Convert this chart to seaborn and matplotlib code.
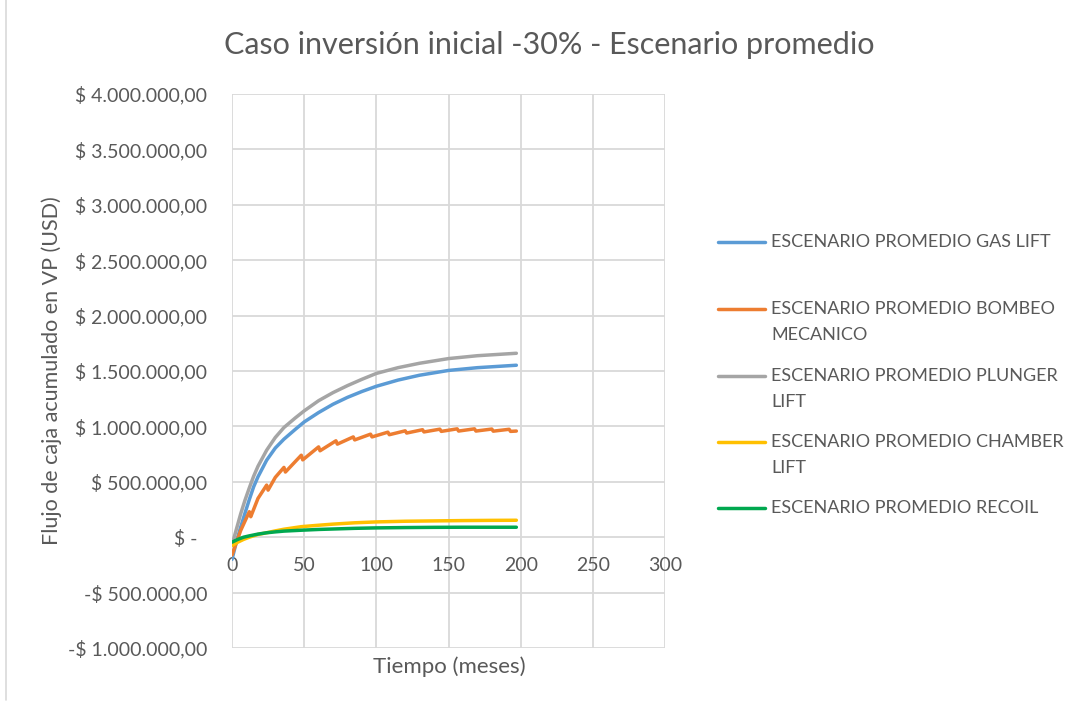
import matplotlib
matplotlib.use("Agg")
import matplotlib.pyplot as plt
from matplotlib.lines import Line2D
from matplotlib.transforms import ScaledTranslation
import numpy as np
import pandas as pd
import seaborn as sns

# Cumulative discounted cash flow (USD) per lift method, by month
series_names = [
    "ESCENARIO PROMEDIO GAS LIFT",
    "ESCENARIO PROMEDIO BOMBEO MECANICO",
    "ESCENARIO PROMEDIO PLUNGER LIFT",
    "ESCENARIO PROMEDIO CHAMBER LIFT",
    "ESCENARIO PROMEDIO RECOIL",
]
legend_lines = [
    ["ESCENARIO PROMEDIO GAS LIFT"],
    ["ESCENARIO PROMEDIO BOMBEO", "MECANICO"],
    ["ESCENARIO PROMEDIO PLUNGER", "LIFT"],
    ["ESCENARIO PROMEDIO CHAMBER", "LIFT"],
    ["ESCENARIO PROMEDIO RECOIL"],
]

months_gas = [0, 3, 6, 9, 12, 15, 18, 24, 30, 36, 44, 50, 60, 70, 80, 90, 100,
              115, 130, 150, 170, 197]
gas_lift = [-200000, -45000, 90000, 217000, 340000, 455000, 545000, 695000,
            805000, 885000, 975000, 1040000, 1125000, 1200000, 1262000, 1315000,
            1362000, 1418000, 1462000, 1505000, 1530000, 1552000]

months_bm = [0, 6, 12, 13, 18, 24, 25, 30, 36, 37, 48, 49, 60, 61, 72, 73, 84, 85,
             96, 97, 108, 109, 120, 121, 132, 133, 144, 145, 156, 157, 168, 169,
             180, 181, 192, 193, 197]
bombeo_mecanico = [-160000, 60000, 230000, 185000, 350000, 470000, 425000, 540000,
                   630000, 588000, 740000, 698000, 815000, 780000, 870000, 840000,
                   905000, 878000, 930000, 905000, 948000, 925000, 960000, 940000,
                   970000, 950000, 975000, 955000, 978000, 958000, 978000, 958000,
                   976000, 957000, 974000, 955000, 958000]

months_pl = [0, 3, 6, 9, 12, 15, 18, 24, 30, 36, 44, 50, 60, 70, 80, 90, 100,
             115, 130, 150, 170, 197]
plunger_lift = [-70000, 70000, 210000, 334000, 445000, 550000, 640000, 785000,
                900000, 990000, 1078000, 1140000, 1232000, 1305000, 1368000,
                1425000, 1478000, 1530000, 1570000, 1612000, 1638000, 1660000]

months_cl = [0, 4, 8, 12, 18, 24, 30, 36, 48, 60, 70, 85, 100, 120, 140, 160,
             180, 197]
chamber_lift = [-75000, -45000, -20000, 0, 25000, 40000, 57000, 72000, 95000,
                108000, 118000, 130000, 138000, 144000, 147000, 150000, 152000,
                153000]

months_rc = [0, 4, 8, 12, 18, 24, 30, 36, 48, 60, 70, 85, 100, 120, 140, 160,
             180, 197]
recoil = [-45000, -20000, 0, 12000, 28000, 40000, 48000, 55000, 63000, 70000,
          74000, 80000, 84000, 87000, 89000, 90000, 90000, 90000]

x_ticks = [0, 50, 100, 150, 200, 250, 300]
y_ticks = [-1000000, -500000, 0, 500000, 1000000, 1500000, 2000000, 2500000,
           3000000, 3500000, 4000000]

colors = ["#5B9BD5", "#ED7D31", "#A5A5A5", "#FFC000", "#00A84F"]
text_color = "#595959"
grid_color = "#D9D9D9"

frames = []
for name, mx, vals in zip(series_names,
                          [months_gas, months_bm, months_pl, months_cl, months_rc],
                          [gas_lift, bombeo_mecanico, plunger_lift, chamber_lift, recoil]):
    frames.append(pd.DataFrame({"mes": mx, "valor": vals, "serie": name}))
df = pd.concat(frames, ignore_index=True)

sns.set_theme(style="white")
plt.rcParams["font.family"] = ["Lato", "DejaVu Sans"]

W, H = 1086, 708
fig = plt.figure(figsize=(W / 100, H / 100), dpi=100)
ax = fig.add_axes([232 / W, 1 - 648 / H, (665 - 232) / W, (648 - 94) / H])

sns.lineplot(data=df, x="mes", y="valor", hue="serie", hue_order=series_names,
             palette=dict(zip(series_names, colors)), estimator=None, sort=False,
             linewidth=2.5, legend=False, ax=ax, zorder=3)


def money(v):
    if v == 0:
        return "$ -"
    s = f"{abs(v):,.2f}".replace(",", "X").replace(".", ",").replace("X", ".")
    return ("-" if v < 0 else "") + "$ " + s


ax.set_xlim(0, 300)
ax.set_ylim(-1000000, 4000000)
ax.set_xticks(x_ticks)
ax.set_xticklabels([str(t) for t in x_ticks])
ax.set_yticks(y_ticks)
ax.set_yticklabels([money(t) for t in y_ticks])
ax.grid(True, color=grid_color, linewidth=1.3)
ax.set_axisbelow(True)
for sp in ax.spines.values():
    sp.set_visible(False)
ax.spines["bottom"].set_position(("data", 0))
ax.tick_params(axis="x", length=0, pad=14, labelsize=14, labelcolor=text_color)
ax.tick_params(axis="y", length=0, pad=18, labelsize=14, labelcolor=text_color)
ax.set_xlabel("")
ax.set_ylabel("")

for lbl in ax.get_yticklabels():
    if lbl.get_text() == "$ -":
        lbl.set_transform(lbl.get_transform() + ScaledTranslation(-9 / 100, 0, fig.dpi_scale_trans))

fig.text(549 / W, 1 - 45 / H, "Caso inversión inicial -30% - Escenario promedio",
         ha="center", va="center", fontsize=22, color=text_color)
fig.text(449 / W, 1 - 667 / H, "Tiempo (meses)", ha="center", va="center",
         fontsize=16, color=text_color)
fig.text(52 / W, 1 - 371 / H, "Flujo de caja acumulado en VP (USD)", ha="center",
         va="center", rotation=90, fontsize=15.5, color=text_color)

# legend drawn at the right of the plot area
row_y = [242, 309, 376, 442, 508]
for lines, col, y in zip(legend_lines, colors, row_y):
    fig.add_artist(Line2D([718 / W, 765 / W], [1 - y / H, 1 - y / H],
                          transform=fig.transFigure, color=col, linewidth=2.5))
    for i, line in enumerate(lines):
        fig.text(771 / W, 1 - (y + 26 * i) / H, line, ha="left", va="center",
                 fontsize=13, color=text_color)

# chart frame edge on the left
fig.add_artist(Line2D([6 / W, 6 / W], [1 - 700 / H, 1.0], transform=fig.transFigure,
                      color=grid_color, linewidth=1.2))

fig.savefig("out.png", dpi=100)
